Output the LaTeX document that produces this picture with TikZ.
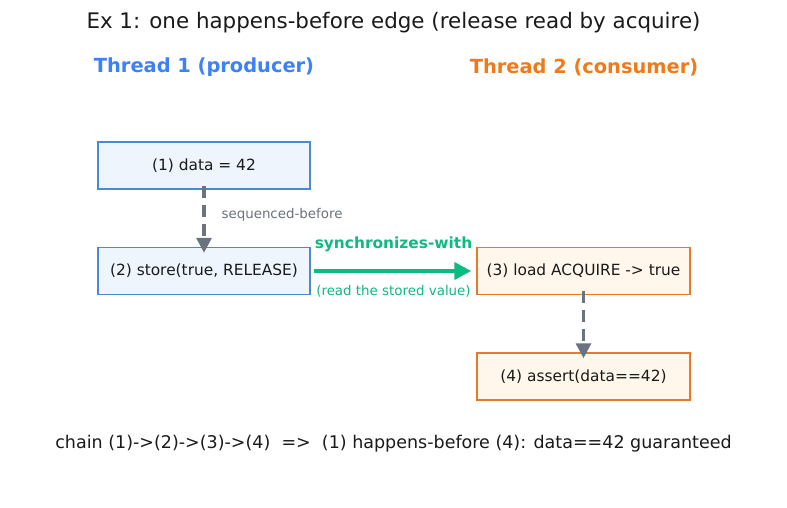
\documentclass[tikz,border=0pt]{standalone}
\usepackage{fontspec}
\setmainfont{DejaVu Sans}
\usetikzlibrary{arrows.meta}
\definecolor{bluefill}{HTML}{EEF5FD}
\definecolor{bluestroke}{HTML}{4A8AD4}
\definecolor{bluetext}{HTML}{3B82F6}
\definecolor{orangefill}{HTML}{FFF7EB}
\definecolor{orangestroke}{HTML}{E8792B}
\definecolor{orangetext}{HTML}{F07A1A}
\definecolor{grayarrow}{HTML}{6B7280}
\definecolor{greenarrow}{HTML}{10B981}
\definecolor{textdark}{HTML}{1A1A1A}
\tikzset{
  bluebox/.style={draw=bluestroke, fill=bluefill, line width=1.5pt, minimum width=212pt, minimum height=47pt, inner sep=0pt, font=\fontsize{15.4}{18}\selectfont, text=textdark},
  orangebox/.style={draw=orangestroke, fill=orangefill, line width=1.5pt, minimum width=213pt, minimum height=47pt, inner sep=0pt, font=\fontsize{15.4}{18}\selectfont, text=textdark},
  seqarrow/.style={draw=grayarrow, line width=3.3pt, dash pattern=on 12pt off 7pt, -{Triangle[length=15pt,width=15pt]}},
  syncarrow/.style={draw=greenarrow, line width=4pt, -{Triangle[length=17pt,width=17pt]}},
}
\begin{document}
\begin{tikzpicture}[x=1pt,y=-1pt]
\useasboundingbox (0,0) rectangle (787,508);
\node[font=\fontsize{21.4}{25}\selectfont, text=textdark] (title) at (393.5,23) {Ex 1: one happens-before edge (release read by acquire)};
\node[font=\bfseries\fontsize{19.4}{23}\selectfont, text=bluetext] (t1) at (204,67) {Thread 1 (producer)};
\node[font=\bfseries\fontsize{19.4}{23}\selectfont, text=orangetext] (t2) at (584,67) {Thread 2 (consumer)};
\node[bluebox] (n1) at (204,165.5) {(1) data = 42};
\node[bluebox] (n2) at (204,271) {(2) store(true, RELEASE)};
\node[orangebox] (n3) at (583.5,271) {(3) load ACQUIRE -> true};
\node[orangebox] (n4) at (583.5,376.5) {(4) assert(data==42)};
\draw[seqarrow] ([yshift=4pt]n1.south) -- ([yshift=-6pt]n2.north);
\node[anchor=west, font=\fontsize{13.4}{16}\selectfont, text=grayarrow] (lab1) at (218,215) {sequenced-before};
\draw[syncarrow] ([xshift=3pt]n2.east) -- ([xshift=-5pt]n3.west);
\node[font=\bfseries\fontsize{15.4}{18}\selectfont, text=greenarrow] (lab2) at (393.5,244) {synchronizes-with};
\node[font=\fontsize{13.4}{16}\selectfont, text=greenarrow] (lab3) at (393.5,291) {(read the stored value)};
\draw[seqarrow] ([yshift=4pt]n3.south) -- ([yshift=-6pt]n4.north);
\node[font=\fontsize{17.5}{21}\selectfont, text=textdark] (foot) at (393.5,444) {chain (1)->(2)->(3)->(4)\ \ =>\ \ (1) happens-before (4): data==42 guaranteed};
\end{tikzpicture}
\end{document}
